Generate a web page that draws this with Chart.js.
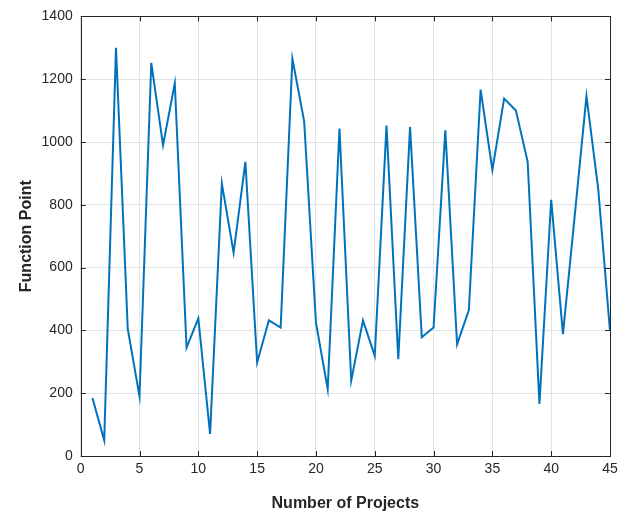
<!DOCTYPE html>
<html>
<head>
<meta charset="utf-8">
<script src="https://cdn.jsdelivr.net/npm/chart.js@4/dist/chart.umd.min.js"></script>
<style>
html,body{margin:0;padding:0;background:#fff;}
#c{display:block;}
</style>
</head>
<body>
<canvas id="c" width="630" height="513"></canvas>
<script>
const projects = [1,2,3,4,5,6,7,8,9,10,11,12,13,14,15,16,17,18,19,20,21,22,23,24,25,26,27,28,29,30,31,32,33,34,35,36,37,38,39,40,41,42,43,44,45];
const functionPoints = [185,50,1300,405,190,1252,990,1187,345,438,70,868,647,937,298,432,409,1265,1065,425,213,1043,240,432,319,1052,308,1048,378,409,1037,356,465,1167,911,1138,1100,937,166,816,388,765,1146,850,398];
const xTicks = [0,5,10,15,20,25,30,35,40,45];
const yTicks = [0,200,400,600,800,1000,1200,1400];

const axisColor = '#262626';
const fontFam = '"Liberation Sans", Arial, Helvetica, sans-serif';

const boxPlugin = {
  id: 'boxTicks',
  afterDraw(chart) {
    const {ctx, chartArea: a, scales} = chart;
    ctx.save();
    ctx.strokeStyle = axisColor;
    ctx.lineWidth = 1;
    ctx.beginPath();
    const L = 5;
    xTicks.forEach(v => {
      const px = Math.round(scales.x.getPixelForValue(v)) + 0.5;
      ctx.moveTo(px, a.bottom); ctx.lineTo(px, a.bottom - L);
      ctx.moveTo(px, a.top); ctx.lineTo(px, a.top + L);
    });
    yTicks.forEach(v => {
      const py = Math.round(scales.y.getPixelForValue(v)) + 0.5;
      ctx.moveTo(a.left, py); ctx.lineTo(a.left + L, py);
      ctx.moveTo(a.right, py); ctx.lineTo(a.right - L, py);
    });
    ctx.stroke();
    ctx.strokeRect(Math.round(a.left) + 0.5, Math.round(a.top) + 0.5, Math.round(a.right - a.left), Math.round(a.bottom - a.top));
    ctx.restore();
  }
};

new Chart(document.getElementById('c'), {
  type: 'line',
  data: {
    datasets: [{
      data: projects.map((p, i) => ({x: p, y: functionPoints[i]})),
      borderColor: '#0072BD',
      borderWidth: 2,
      pointRadius: 0,
      tension: 0,
      fill: false
    }]
  },
  options: {
    responsive: false,
    animation: false,
    devicePixelRatio: 1,
    layout: {padding: {top: 14, right: 20, left: 0, bottom: 0}},
    plugins: {legend: {display: false}, tooltip: {enabled: false}},
    scales: {
      x: {
        type: 'linear', min: 0, max: 45,
        afterBuildTicks: s => { s.ticks = xTicks.map(v => ({value: v})); },
        afterFit: s => { s.height = 57; },
        grid: {color: '#e3e3e3', drawTicks: false, lineWidth: 1},
        border: {display: false},
        ticks: {color: axisColor, font: {family: fontFam, size: 14}, padding: 5, maxRotation: 0, callback: v => String(v)},
        title: {display: true, text: 'Number of Projects', color: axisColor, font: {family: fontFam, size: 16, weight: 'bold'}, padding: {top: 2, bottom: 0}}
      },
      y: {
        type: 'linear', min: 0, max: 1400,
        afterBuildTicks: s => { s.ticks = yTicks.map(v => ({value: v})); },
        afterFit: s => { s.width = 80.7; },
        grid: {color: '#e3e3e3', drawTicks: false, lineWidth: 1},
        border: {display: false},
        ticks: {color: axisColor, font: {family: fontFam, size: 14}, padding: 8, callback: v => String(v)},
        title: {display: true, text: 'Function Point', color: axisColor, font: {family: fontFam, size: 16, weight: 'bold'}, padding: {top: 17, bottom: 0}}
      }
    }
  },
  plugins: [boxPlugin]
});
</script>
</body>
</html>
